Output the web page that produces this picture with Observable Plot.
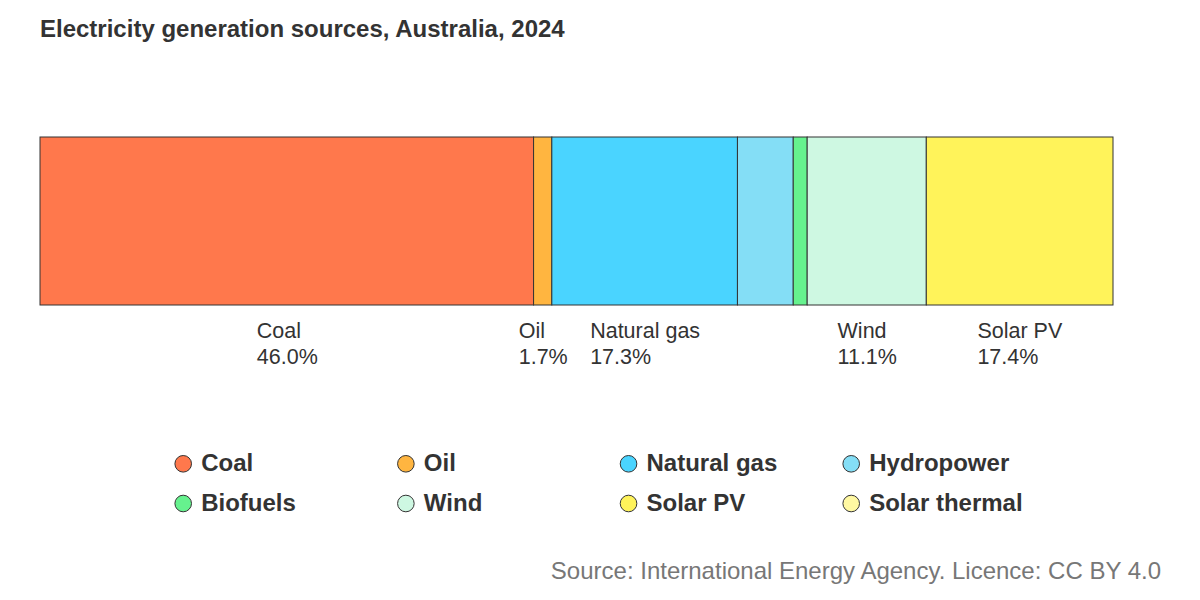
<!DOCTYPE html>
<html>
<head>
<meta charset="utf-8">
<script src="https://cdn.jsdelivr.net/npm/d3@7"></script>
<script src="https://cdn.jsdelivr.net/npm/@observablehq/plot@0.6"></script>
<style>
  html, body { margin: 0; padding: 0; background: #fff; }
  body { width: 1200px; height: 600px; position: relative; overflow: hidden;
         font-family: "Liberation Sans", Arial, sans-serif; }
  #title { position: absolute; left: 40px; top: 17px; font-size: 24px; line-height: 24px;
           font-weight: bold; color: #333; white-space: nowrap; }
  #chart { position: absolute; left: 0; top: 60px; }
  #legend { position: absolute; left: 0; top: 440px; }
  #source { position: absolute; right: 39px; top: 559px; font-size: 24px; line-height: 24px;
            color: #777; white-space: nowrap; }
</style>
</head>
<body>
<div id="title">Electricity generation sources, Australia, 2024</div>
<div id="chart"></div>
<div id="legend"></div>
<div id="source">Source: International Energy Agency. Licence: CC BY 4.0</div>
<script>
// ---- data ----
const sources = ["Coal", "Oil", "Natural gas", "Hydropower", "Biofuels", "Wind", "Solar PV", "Solar thermal"];
const shares = [46.0, 1.7, 17.3, 5.2, 1.3, 11.1, 17.4, 0.0];
const colors = ["#ff784c", "#ffb540", "#4ad4ff", "#84def6", "#66f28e", "#cef8e2", "#fff35a", "#fff8a2"];
const labelledSources = ["Coal", "Oil", "Natural gas", "Wind", "Solar PV"];

// ---- table ----
const ends = d3.cumsum(shares);
const rows = sources.map((s, i) => ({
  source: s,
  value: shares[i],
  start: ends[i] - shares[i],
  end: ends[i],
  mid: ends[i] - shares[i] / 2,
  label: `${s}\n${shares[i].toFixed(1)}%`,
  col: i % 4,
  row: Math.floor(i / 4)
}));
const total = d3.sum(shares);
const font = "'Liberation Sans', Arial, sans-serif";
const colorScale = {domain: sources, range: colors};

// ---- main bar ----
const chart = Plot.plot({
  width: 1200,
  height: 340,
  marginLeft: 40,
  marginRight: 87,
  marginTop: 77,
  marginBottom: 95,
  style: {fontFamily: font, background: "transparent"},
  x: {domain: [0, total], axis: null},
  color: colorScale,
  marks: [
    Plot.rectX(rows, {x1: "start", x2: "end", fill: "source", stroke: "#333", strokeWidth: 1}),
    Plot.text(rows.filter(d => labelledSources.includes(d.source)), {
      x: "mid", text: "label", frameAnchor: "bottom", lineAnchor: "top",
      textAnchor: "start", dy: 13.5, fontSize: 21.5, lineHeight: 1.22, fill: "#333",
      className: "seglabel"
    })
  ]
});
document.getElementById("chart").appendChild(chart);

// center each label block while keeping its lines left-aligned
chart.querySelectorAll(".seglabel text").forEach(t => {
  const w = t.getBBox().width;
  const spans = t.querySelectorAll("tspan");
  if (spans.length) spans.forEach(s => s.setAttribute("x", -w / 2));
  else t.setAttribute("x", -w / 2);
});

// ---- legend ----
const legend = Plot.plot({
  width: 1200,
  height: 90,
  marginLeft: 182.7,
  marginRight: 349.3,
  marginTop: 23.3,
  marginBottom: 27,
  style: {fontFamily: font, background: "transparent"},
  x: {domain: [0, 3], axis: null},
  y: {domain: [0, 1], axis: null, reverse: true},
  color: colorScale,
  marks: [
    Plot.dot(rows, {x: "col", y: "row", r: 8.3, fill: "source", stroke: "#333", strokeWidth: 1}),
    Plot.text(rows, {x: "col", y: "row", text: "source", textAnchor: "start", dx: 18,
      fontSize: 24, fontWeight: "bold", fill: "#333"})
  ]
});
document.getElementById("legend").appendChild(legend);
</script>
</body>
</html>
